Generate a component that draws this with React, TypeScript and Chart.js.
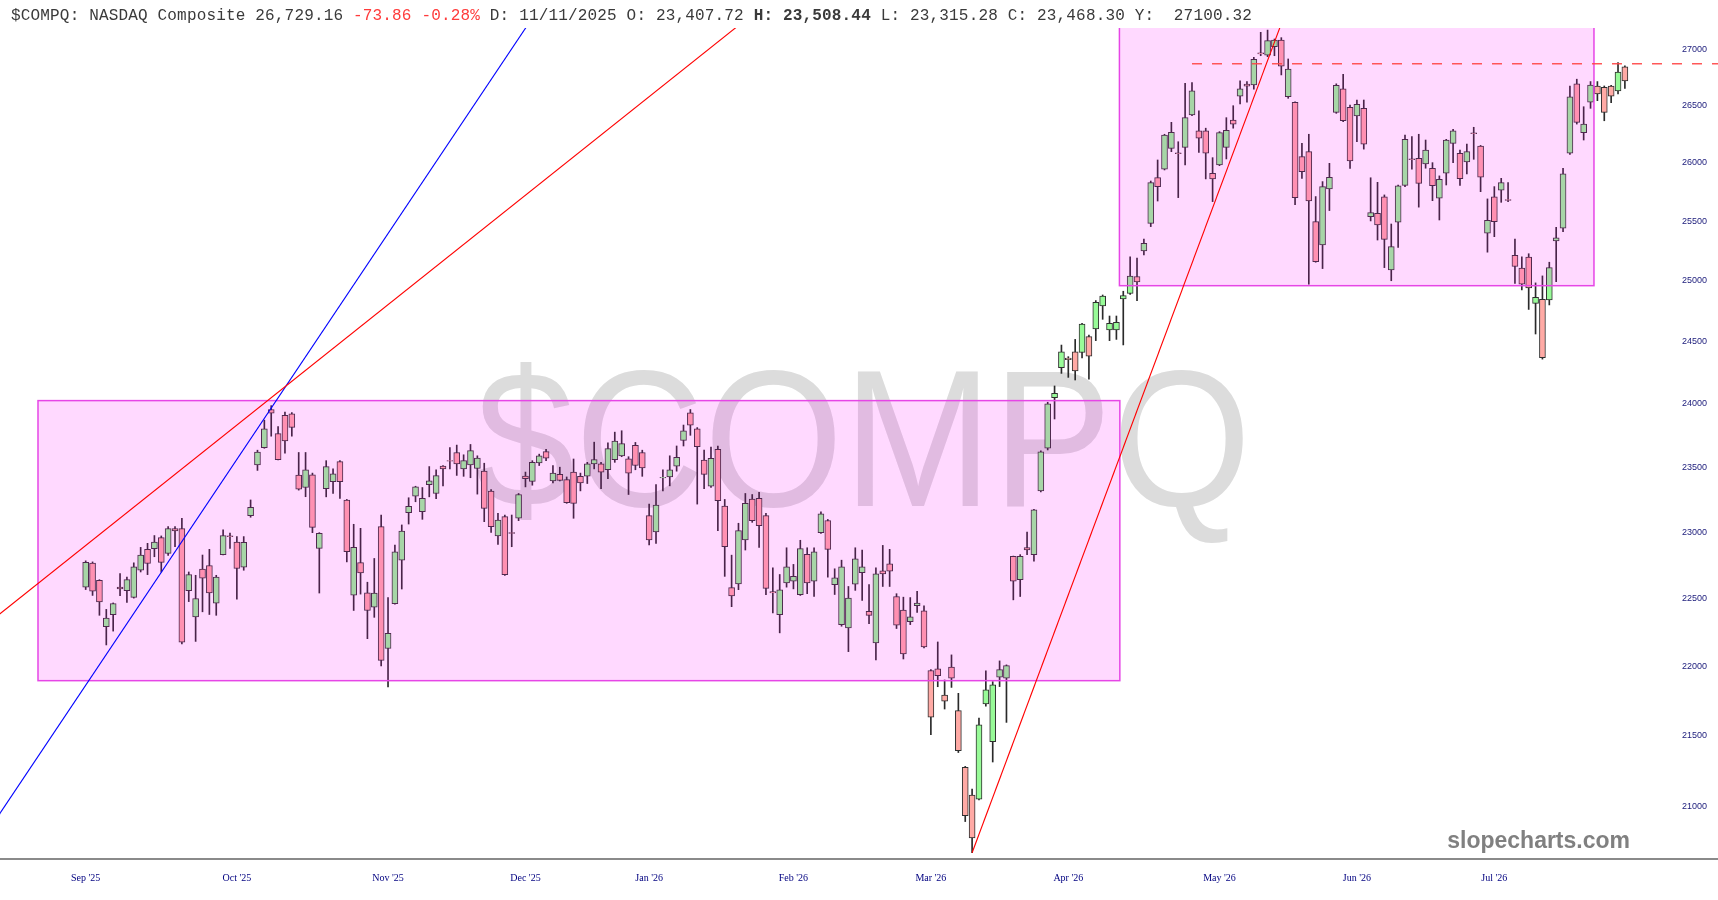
import React, { useEffect, useRef } from 'react';
import { Chart, registerables } from 'chart.js';

Chart.register(...registerables);

// ---- daily OHLC (index 0 = first session, Sep '25) ----
const OPEN = [
  22585, 22766, 22636, 22291, 22380, 22585, 22559, 22508, 22712, 22870,
  22875, 22959, 22840, 23028, 23028, 22559, 22363, 22720, 22748, 22465,
  22829, 22972, 22926, 22735, 23128, 23520, 23655, 23956, 23765, 23910,
  23921, 23441, 23344, 23443, 22877, 23336, 23390, 23545, 23247, 22525,
  22770, 22543, 22436, 23043, 22130, 22462, 22788, 23150, 23278, 23158,
  23367, 23298, 23510, 23553, 23617, 23489, 23520, 23492, 23471, 23316,
  22972, 23120, 22997, 23107, 23433, 23392, 23535, 23624, 23395, 23446,
  23405, 23464, 23431, 23433, 23528, 23528, 23482, 23561, 23591, 23568,
  23673, 23617, 23127, 23002, 23418, 23426, 23510, 23711, 23930, 23803,
  23558, 23354, 23642, 23201, 22581, 22610, 22941, 23255, 23260, 23127,
  22551, 22380, 22617, 22629, 22528, 22832, 22629, 22997, 23090, 22604,
  22306, 22282, 22608, 22693, 22404, 22171, 22708, 22761, 22515, 22414,
  22328, 22446, 22409, 21969, 21981, 21791, 21994, 21678, 21274, 21080,
  21050, 21726, 21456, 21920, 21913, 22817, 22642, 22883, 22829, 23318,
  23650, 24051, 24292, 24369, 24419, 24414, 24542, 24605, 24794, 24597,
  24597, 24851, 24896, 25037, 25251, 25483, 25872, 25944, 26125, 26085,
  26133, 26416, 26276, 26276, 25909, 25981, 26133, 26371, 26582, 26687,
  26680, 26965, 26946, 27021, 27081, 26576, 26527, 26053, 26096, 25497,
  25301, 25775, 26439, 26645, 26483, 26407, 26474, 25539, 25568, 25707,
  25092, 25492, 25806, 26035, 26038, 25990, 25953, 25696, 25910, 26168,
  26082, 26007, 26260, 26145, 25399, 25707, 25764, 25685, 25213, 25108,
  25199, 24815, 24849, 24843, 25334, 25441, 26082, 26689, 26261, 26527,
  26671, 26660, 26671, 26627, 26841,
];
const HIGH = [
  22783, 22775, 22641, 22419, 22467, 22686, 22661, 22768, 22885, 22916,
  22975, 22972, 23043, 23043, 23107, 22699, 22674, 22827, 22870, 22674,
  23018, 22993, 22967, 22967, 23248, 23635, 23872, 23987, 23821, 23936,
  23931, 23617, 23617, 23456, 22997, 23553, 23489, 23553, 23252, 23061,
  23030, 22622, 22801, 23132, 22507, 22903, 23056, 23265, 23354, 23344,
  23507, 23482, 23515, 23655, 23675, 23599, 23680, 23591, 23533, 23329,
  23145, 23132, 23132, 23298, 23464, 23553, 23604, 23642, 23515, 23502,
  23426, 23566, 23456, 23540, 23698, 23540, 23693, 23777, 23788, 23584,
  23696, 23635, 23216, 23367, 23482, 23591, 23668, 23833, 23956, 23813,
  23635, 23660, 23668, 23252, 22826, 23069, 23298, 23290, 23306, 23145,
  22731, 22680, 22882, 22756, 22939, 22882, 22882, 23156, 23098, 22723,
  22788, 22590, 22882, 22864, 22604, 22731, 22900, 22870, 22536, 22510,
  22507, 22554, 22446, 21975, 22178, 21900, 22083, 21803, 21281, 21121,
  21624, 21967, 21888, 22039, 22010, 22819, 22830, 23002, 23176, 23630,
  24014, 24144, 24474, 24380, 24520, 24651, 24556, 24838, 24884, 24711,
  24711, 24915, 25201, 25190, 25349, 25843, 26024, 26247, 26351, 26182,
  26695, 26701, 26451, 26300, 26044, 26270, 26392, 26497, 26716, 26710,
  26926, 27150, 27170, 27090, 27102, 26911, 26532, 26168, 26247, 25710,
  25838, 25995, 26690, 26775, 26502, 26547, 26547, 25871, 25832, 25724,
  25477, 25809, 26241, 26226, 26247, 26197, 26001, 25887, 26203, 26291,
  26110, 26162, 26308, 26150, 25690, 25795, 25866, 25829, 25349, 25201,
  25227, 24984, 25042, 25156, 25449, 25953, 26671, 26731, 26488, 26710,
  26710, 26671, 26677, 26878, 26850,
];
const LOW = [
  22567, 22523, 22375, 22156, 22258, 22521, 22470, 22503, 22699, 22679,
  22814, 22699, 22824, 22891, 22164, 22477, 22182, 22401, 22381, 22375,
  22827, 22878, 22495, 22712, 23115, 23477, 23650, 23745, 23558, 23612,
  23745, 23324, 23273, 22997, 22541, 23272, 23298, 23260, 22775, 22411,
  22533, 22202, 22360, 22003, 21850, 22457, 22571, 23063, 23234, 23099,
  23272, 23257, 23357, 23489, 23438, 23431, 23420, 23293, 23081, 22999,
  22908, 22673, 22890, 23089, 23349, 23362, 23515, 23553, 23380, 23395,
  23222, 23107, 23318, 23375, 23489, 23336, 23413, 23540, 23584, 23290,
  23482, 23431, 22903, 22916, 23318, 23357, 23471, 23668, 23752, 23216,
  23336, 23344, 23012, 22666, 22439, 22566, 22865, 23076, 22885, 22528,
  22392, 22245, 22585, 22572, 22523, 22536, 22515, 22992, 22660, 22530,
  22294, 22107, 22561, 22485, 22313, 22046, 22590, 22590, 22277, 22053,
  22306, 22397, 22134, 21506, 21851, 21690, 21846, 21379, 20895, 20680,
  21045, 21711, 21312, 21852, 21594, 22490, 22515, 22829, 22781, 23310,
  23637, 23881, 24245, 24213, 24192, 24370, 24198, 24510, 24684, 24510,
  24520, 24475, 24888, 24838, 25217, 25455, 25672, 25938, 26096, 25701,
  25981, 26410, 26090, 25861, 25667, 25975, 26033, 26300, 26512, 26527,
  26642, 26940, 26931, 26940, 26769, 26562, 25640, 25866, 24973, 25156,
  25103, 25591, 26430, 26356, 25952, 26182, 26118, 25503, 25342, 25111,
  25002, 25279, 25795, 25945, 25620, 25953, 25675, 25511, 25809, 26001,
  25806, 25904, 26030, 25752, 25240, 25370, 25661, 25666, 24980, 24926,
  24765, 24564, 24360, 24802, 24994, 25413, 26073, 26336, 26197, 26474,
  26541, 26365, 26523, 26600, 26650,
];
const CLOSE = [
  22771, 22554, 22475, 22355, 22462, 22572, 22641, 22738, 22827, 22763,
  22926, 22771, 23028, 23010, 22177, 22679, 22500, 22653, 22541, 22661,
  22975, 22967, 22725, 22924, 23191, 23620, 23803, 23928, 23561, 23707,
  23814, 23332, 23482, 23038, 22992, 23507, 23451, 23390, 22852, 22885,
  22691, 22411, 22541, 22043, 22242, 22852, 23010, 23199, 23349, 23260,
  23395, 23436, 23489, 23550, 23528, 23553, 23632, 23573, 23183, 23043,
  23094, 22678, 22992, 23290, 23413, 23540, 23591, 23573, 23456, 23400,
  23227, 23222, 23380, 23528, 23561, 23464, 23647, 23706, 23686, 23456,
  23515, 23497, 22941, 23209, 23423, 23482, 23579, 23788, 23833, 23663,
  23446, 23571, 23242, 22890, 22520, 23012, 23222, 23089, 23051, 22576,
  22541, 22564, 22738, 22667, 22875, 22617, 22852, 23141, 22870, 22655,
  22738, 22503, 22798, 22738, 22375, 22685, 22685, 22705, 22301, 22090,
  22363, 22466, 22141, 21631, 21932, 21747, 21913, 21393, 20935, 20781,
  21577, 21828, 21864, 21975, 22004, 22630, 22817, 22865, 23171, 23623,
  24001, 24086, 24419, 24355, 24265, 24645, 24383, 24824, 24876, 24651,
  24659, 24879, 25040, 24992, 25315, 25829, 25795, 26241, 26264, 26079,
  26392, 26627, 26212, 26082, 25861, 26261, 26281, 26336, 26645, 26669,
  26908, 26957, 27075, 27081, 26847, 26822, 25701, 25923, 25673, 25161,
  25795, 25875, 26677, 26365, 26016, 26509, 26161, 25573, 25469, 25348,
  25287, 25801, 26203, 26026, 25823, 26110, 25803, 25858, 26197, 26276,
  25864, 26096, 26252, 25875, 25508, 25497, 25829, 25678, 25120, 24973,
  24942, 24865, 24372, 25111, 25361, 25904, 26576, 26351, 26336, 26680,
  26600, 26439, 26582, 26794, 26716,
];

// ---- axes ----
const MONTH_TICKS = [0, 22, 44, 64, 82, 103, 123, 143, 165, 185, 205];
const MONTH_LABELS = ["Sep '25", "Oct '25", "Nov '25", "Dec '25", "Jan '26", "Feb '26", "Mar '26", "Apr '26", "May '26", "Jun '26", "Jul '26"];
const PRICE_TICKS = [21000, 21500, 22000, 22500, 23000, 23500, 24000, 24500, 25000, 25500, 26000, 26500, 27000];
const X_RANGE = [-12.47, 237.55];
const Y_RANGE = [20637, 27189];

// ---- drawn annotations (session index, price) ----
const ZONE_LOW_X = [-6.94, 150.5];
const ZONE_LOW_Y = [21895, 24027];
const ZONE_HIGH_X = [150.44, 219.5];
const ZONE_HIGH_Y = [24961, 27400];
const TREND_BLUE = [[-13.9, 20851], [64.8, 27261]];
const TREND_RED_1 = [[-13.93, 22327], [95.8, 27251]];
const TREND_RED_2 = [[129, 20680], [174.2, 27261]];
const RESISTANCE_START = 161.0;
const RESISTANCE_PRICE = 26869;

const WATERMARK = '$COMPQ';
const SITE = 'slopecharts.com';

const UP = '#98fb98';
const DOWN = '#ffaaa5';

const overlayPlugin = {
  id: 'overlay',
  beforeDatasetsDraw(chart: any) {
    const { ctx, chartArea: a } = chart;
    ctx.save();
    ctx.beginPath();
    ctx.rect(a.left, a.top, a.right - a.left, a.bottom - a.top);
    ctx.clip();
    ctx.font = '194px "Liberation Sans", Arial, sans-serif';
    ctx.textAlign = 'left';
    ctx.textBaseline = 'alphabetic';
    const m = ctx.measureText(WATERMARK);
    const ink = m.actualBoundingBoxLeft + m.actualBoundingBoxRight;
    const sx = 766 / ink;
    ctx.translate(860, 506);
    ctx.scale(sx, 1);
    ctx.fillStyle = '#dcdcdc';
    ctx.fillText(WATERMARK, -(m.actualBoundingBoxRight - m.actualBoundingBoxLeft) / 2, 0);
    ctx.restore();
  },
  afterDatasetsDraw(chart: any) {
    const { ctx, chartArea: a, scales } = chart;
    const xs = scales.x;
    const ys = scales.y;
    const px = (v: number) => xs.getPixelForValue(v);
    const py = (v: number) => ys.getPixelForValue(v);
    ctx.save();
    ctx.beginPath();
    ctx.rect(a.left, a.top, a.right - a.left, a.bottom - a.top);
    ctx.clip();
    const zones = [[ZONE_LOW_X, ZONE_LOW_Y], [ZONE_HIGH_X, ZONE_HIGH_Y]];
    for (const [zx, zy] of zones) {
      const x0 = px(zx[0]);
      const x1 = px(zx[1]);
      const y0 = py(zy[1]);
      const y1 = py(zy[0]);
      ctx.fillStyle = 'rgba(255,0,255,0.15)';
      ctx.fillRect(x0, y0, x1 - x0, y1 - y0);
      ctx.strokeStyle = '#e646e6';
      ctx.lineWidth = 1.5;
      ctx.strokeRect(x0, y0, x1 - x0, y1 - y0);
    }
    const lines: [number[][], string][] = [
      [TREND_BLUE, '#0000ff'],
      [TREND_RED_1, '#ff0000'],
      [TREND_RED_2, '#ff0000'],
    ];
    for (const [pts, col] of lines) {
      ctx.beginPath();
      ctx.moveTo(px(pts[0][0]), py(pts[0][1]));
      ctx.lineTo(px(pts[1][0]), py(pts[1][1]));
      ctx.strokeStyle = col;
      ctx.lineWidth = 1.1;
      ctx.stroke();
    }
    ctx.restore();
    ctx.save();
    ctx.setLineDash([10, 10]);
    ctx.strokeStyle = 'rgba(255,70,70,0.9)';
    ctx.lineWidth = 1.5;
    const yy = py(RESISTANCE_PRICE);
    ctx.beginPath();
    ctx.moveTo(px(RESISTANCE_START), yy);
    ctx.lineTo(chart.width, yy);
    ctx.stroke();
    ctx.restore();
  },
  afterDraw(chart: any) {
    const { ctx } = chart;
    ctx.save();
    ctx.font = 'bold 23px "Liberation Sans", Arial, sans-serif';
    ctx.fillStyle = '#808080';
    ctx.textAlign = 'right';
    ctx.textBaseline = 'alphabetic';
    ctx.fillText(SITE, 1630, 848);
    ctx.restore();
  },
};

export default function App() {
  const ref = useRef<HTMLCanvasElement | null>(null);

  useEffect(() => {
    document.body.style.margin = '0';
    document.body.style.overflow = 'hidden';
    const canvas = ref.current;
    if (!canvas) return;
    const bodies = OPEN.map((o, i) => ({ x: i, y: [o, CLOSE[i]] }));
    const wicks = LOW.map((l, i) => ({ x: i, y: [l, HIGH[i]] }));
    const colors = OPEN.map((o, i) => (CLOSE[i] >= o ? UP : DOWN));
    const chart = new Chart(canvas, {
      type: 'bar',
      data: {
        datasets: [
          {
            data: bodies as any,
            backgroundColor: colors,
            borderColor: '#2f2f2f',
            borderWidth: 1,
            borderSkipped: false,
            barThickness: 6,
            grouped: false,
            order: 1,
          } as any,
          {
            data: wicks as any,
            backgroundColor: '#2a2a2a',
            borderWidth: 0,
            barThickness: 1,
            grouped: false,
            order: 2,
          } as any,
        ],
      },
      options: {
        animation: false,
        responsive: true,
        maintainAspectRatio: false,
        events: [],
        layout: { padding: { top: 28, bottom: 3, left: 0, right: 0 } },
        plugins: { legend: { display: false }, tooltip: { enabled: false } },
        scales: {
          x: {
            type: 'linear',
            min: X_RANGE[0],
            max: X_RANGE[1],
            offset: false,
            grid: { display: false, drawTicks: false },
            border: { display: true, color: '#8a8a8a', width: 2 },
            afterBuildTicks: (s: any) => {
              s.ticks = MONTH_TICKS.map((v) => ({ value: v }));
            },
            ticks: {
              autoSkip: false,
              maxRotation: 0,
              padding: 13,
              color: '#000080',
              font: { family: '"Liberation Serif", serif', size: 10 },
              callback: (_v: any, i: number) => MONTH_LABELS[i] ?? '',
            },
          },
          y: {
            type: 'logarithmic',
            position: 'right',
            min: Y_RANGE[0],
            max: Y_RANGE[1],
            grid: { display: false, drawTicks: false },
            border: { display: false },
            afterBuildTicks: (s: any) => {
              s.ticks = PRICE_TICKS.map((v) => ({ value: v }));
            },
            afterFit: (s: any) => {
              s.width = 0;
            },
            ticks: {
              mirror: true,
              padding: -11,
              color: '#1a1a7a',
              font: { family: '"Liberation Sans", Arial, sans-serif', size: 9 },
              callback: (v: any) => String(v),
            },
          },
        } as any,
      },
      plugins: [overlayPlugin],
    });
    return () => chart.destroy();
  }, []);

  return (
    <div style={{ position: 'fixed', left: 0, top: 0, width: 1718, height: 900, background: '#fff' }}>
      <canvas ref={ref} />
      <div
        style={{
          position: 'absolute',
          left: 11,
          top: 2,
          font: '16px "Liberation Mono", "Courier New", monospace',
          lineHeight: '28px',
          letterSpacing: '0.17px',
          color: '#3a3a3a',
          whiteSpace: 'pre',
        }}
      >
        {'$COMPQ: NASDAQ Composite 26,729.16 '}
        <span style={{ color: '#ff3b3b' }}>{'-73.86 -0.28%'}</span>
        {' D: 11/11/2025 O: 23,407.72 '}
        <b>{'H: 23,508.44'}</b>
        {' L: 23,315.28 C: 23,468.30 Y:  27100.32'}
      </div>
    </div>
  );
}
